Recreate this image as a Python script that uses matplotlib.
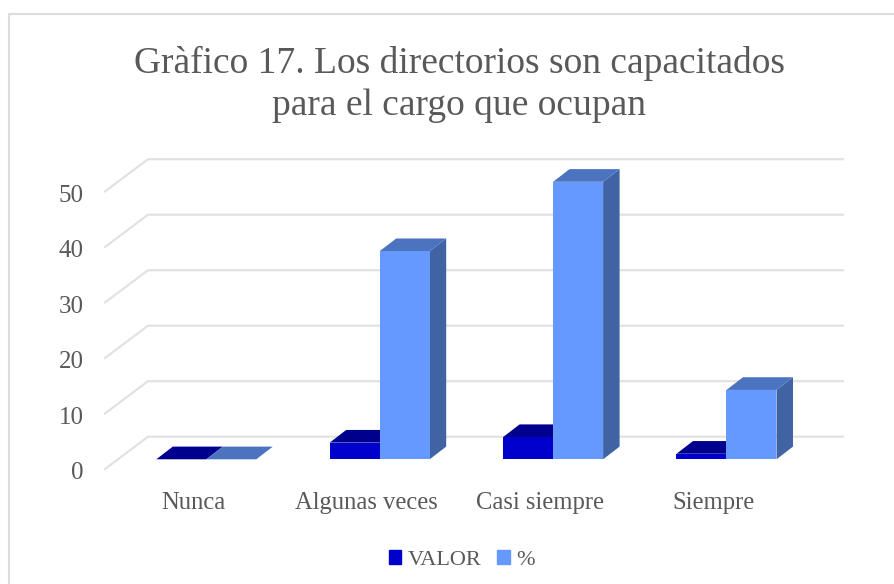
"""
Grafico 17: pseudo-3D column chart, faces drawn as polygons on a plain axes.
"""
import matplotlib
matplotlib.use('Agg')
import matplotlib.pyplot as plt
from matplotlib.lines import Line2D
from matplotlib.patches import Patch

categories = ['Nunca', 'Algunas veces', 'Casi siempre', 'Siempre']
valor = [0, 3, 4, 1]
percent = [0, 37.5, 50, 12.5]
y_ticks = [0, 10, 20, 30, 40, 50]
title = 'Gràfico 17. Los directorios son capacitados\npara el cargo que ocupan'

GRAY = '#595959'
FONT = 'Liberation Serif'
W, H = 894, 584
# pixel scale of the data axes
X0_PX, X_SCALE = 206.3, 173.4
Y0_PX, Y_SCALE = 459.3, 5.55
BAR_W = 50 / X_SCALE
DEPTH_X, DEPTH_Y = 16.5 / X_SCALE, 12.7 / Y_SCALE


def draw_bar(ax, left, value, front, top, side):
    right = left + BAR_W
    ax.fill([right, right + DEPTH_X, right + DEPTH_X, right],
            [0, DEPTH_Y, value + DEPTH_Y, value], color=side, lw=0, zorder=3)
    ax.fill([left, left + DEPTH_X, right + DEPTH_X, right],
            [value, value + DEPTH_Y, value + DEPTH_Y, value], color=top, lw=0, zorder=3)
    ax.fill([left, right, right, left], [0, 0, value, value], color=front, lw=0, zorder=3)


fig = plt.figure(figsize=(W / 100, H / 100), dpi=100)
ax = fig.add_axes([0, 0, 1, 1])
ax.set_xlim(-X0_PX / X_SCALE, (W - X0_PX) / X_SCALE)
ax.set_ylim((Y0_PX - H) / Y_SCALE, Y0_PX / Y_SCALE)
ax.axis('off')

# chart border, only left and top are inside the crop
fig.add_artist(Line2D([8.5 / W, 8.5 / W, 1], [0, 1 - 13.5 / H, 1 - 13.5 / H],
                      transform=fig.transFigure, color='#dcdcdc', lw=1.5))

# gridlines: diagonal on the side wall then along the back wall
x_front, x_back, x_end = (105 - X0_PX) / X_SCALE, (148 - X0_PX) / X_SCALE, (843 - X0_PX) / X_SCALE
dy_front, dy_back = -9.7 / Y_SCALE, 22.6 / Y_SCALE
for tick in y_ticks:
    ax.plot([x_front, x_back, x_end], [tick + dy_front, tick + dy_back, tick + dy_back],
            color='#e2e2e2', lw=1.6, zorder=1, solid_joinstyle='miter')
    ax.text((84 - X0_PX) / X_SCALE, tick - 2.5, str(tick), ha='right', va='center',
            fontsize=18, color=GRAY, family=FONT)

for i, cat in enumerate(categories):
    draw_bar(ax, i - BAR_W, valor[i], '#0000cc', '#00008f', '#000099')
    draw_bar(ax, i, percent[i], '#6699ff', '#4c73bf', '#4064a3')
    ax.text(i - 0.075, -7.85, cat, ha='center', va='center', fontsize=17.7, color=GRAY, family=FONT)

fig.text(459 / W, 1 - 84 / H, title, ha='center', va='center', fontsize=27, color=GRAY,
         family=FONT, linespacing=1.28)

handles = [Patch(color='#0000cc', label='VALOR'), Patch(color='#6699ff', label='%')]
ax.legend(handles=handles, ncol=2, loc='center', bbox_to_anchor=(462 / W, 1 - 560 / H),
          bbox_transform=fig.transFigure, frameon=False, labelcolor=GRAY,
          prop={'family': FONT, 'size': 16}, handlelength=0.56, handleheight=0.56,
          handletextpad=0.3, columnspacing=0.7)

plt.savefig('out.png', dpi=100)
